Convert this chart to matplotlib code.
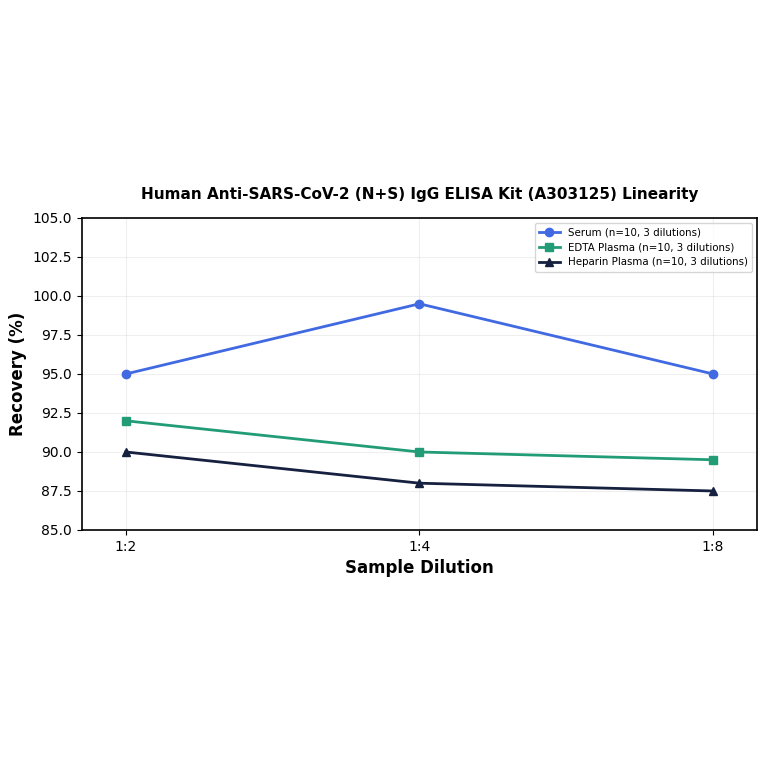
import numpy as np
import matplotlib.pyplot as plt

dilutions = ['1:2', '1:4', '1:8']
serum = [95.0, 99.5, 95.0]
edta = [92.0, 90.0, 89.5]
heparin = [90.0, 88.0, 87.5]

x = np.arange(len(dilutions))

fig = plt.figure(figsize=(7.64, 7.64), dpi=100)
ax = fig.add_axes([0.107, 0.3063, 0.884, 0.4084])

ax.plot(x, serum, color='#4169E1', marker='o', linewidth=2, markersize=6,
        label='Serum (n=10, 3 dilutions)')
ax.plot(x, edta, color='#229C77', marker='s', linewidth=2, markersize=6,
        label='EDTA Plasma (n=10, 3 dilutions)')
ax.plot(x, heparin, color='#16203F', marker='^', linewidth=2, markersize=6,
        label='Heparin Plasma (n=10, 3 dilutions)')

ax.set_xticks(x)
ax.set_xticklabels(dilutions)
ax.set_xlim(-0.15, 2.15)
ax.set_ylim(85, 105)
ax.set_yticks(np.arange(85, 105.1, 2.5))
ax.tick_params(labelsize=10)
ax.grid(True, alpha=0.3, color='#cccccc')
for s in ax.spines.values():
    s.set_linewidth(1.2)

ax.set_xlabel('Sample Dilution', fontsize=12, fontweight='bold')
ax.set_ylabel('Recovery (%)', fontsize=12, fontweight='bold')
ax.set_title('Human Anti-SARS-CoV-2 (N+S) IgG ELISA Kit (A303125) Linearity',
             fontsize=11, fontweight='bold', pad=14)
ax.legend(loc='upper right', fontsize=7.4)

plt.savefig('out.png', dpi=100)
